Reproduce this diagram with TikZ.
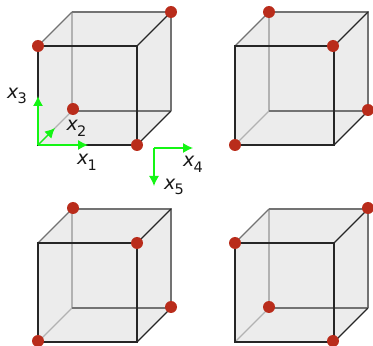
\documentclass[tikz,border=0pt]{standalone}
\usepackage{fontspec}
\setmainfont{DejaVu Sans}
\usepackage{tikz}
\usetikzlibrary{arrows.meta}
\definecolor{cubefill}{HTML}{ECECEC}
\definecolor{dotred}{HTML}{B92C1B}
\definecolor{axisgreen}{HTML}{14F514}
\tikzset{
    edgefront/.style={line width=1.1pt,draw=black!85},
    edgeside/.style={line width=1.1pt,draw=black!55},
    edgeback/.style={line width=1.1pt,draw=black!30},
    axis/.style={line width=1.3pt,draw=axisgreen,-{Latex[length=10pt,width=10pt]}},
    corner/.style={circle,fill=dotred,inner sep=0pt,minimum size=12pt},
    axislabel/.style={inner sep=0pt,font=\fontsize{19}{19}\selectfont,text=black!90}
}
\newcommand{\axisname}[1]{\textit{x}\kern-0.05em\raisebox{-0.3em}{\fontsize{14.5}{14.5}\selectfont #1}}

\begin{document}
\begin{tikzpicture}[x=1pt,y=1pt]

\useasboundingbox (0,0) rectangle (373,346);

% Four cubes: front lower left corner, then size 99 and depth 34
\foreach \cx/\cy in {38/201, 235/201, 38/4, 235/4}{
    \fill[cubefill] (\cx,\cy) -- (\cx+99,\cy) -- (\cx+133,\cy+34) -- (\cx+133,\cy+133)
        -- (\cx+34,\cy+133) -- (\cx,\cy+99) -- cycle;
    % Hidden edges
    \draw[edgeback] (\cx+34,\cy+34) -- (\cx+34,\cy+133);
    \draw[edgeback] (\cx+34,\cy+34) -- (\cx,\cy);
    \draw[edgeside] (\cx+34,\cy+34) -- (\cx+133,\cy+34);
    % Outer edges
    \draw[edgeside] (\cx+34,\cy+133) -- (\cx+133,\cy+133) -- (\cx+133,\cy+34);
    \draw[edgeside] (\cx,\cy+99) -- (\cx+34,\cy+133);
    \draw[edgefront] (\cx+99,\cy+99) -- (\cx+133,\cy+133);
    \draw[edgefront] (\cx+99,\cy) -- (\cx+133,\cy+34);
    % Front face
    \draw[edgefront] (\cx,\cy) rectangle (\cx+99,\cy+99);
}

% Axes of the first cube
\coordinate (origin) at (38,201);
\coordinate (xone) at (88,201);
\coordinate (xtwo) at (55,218);
\coordinate (xthree) at (38,250);
\draw[axis] (origin) -- (xone);
\draw[axis] (origin) -- (xtwo);
\draw[axis] (origin) -- (xthree);

% Axes between the cubes
\coordinate (originb) at (154,198);
\coordinate (xfour) at (193,198);
\coordinate (xfive) at (154,160);
\draw[axis] (originb) -- (xfour);
\draw[axis] (originb) -- (xfive);

% Axis names
\node[axislabel] (labone) at (87,184) {\axisname{1}};
\node[axislabel] (labtwo) at (76.5,218) {\axisname{2}};
\node[axislabel] (labthree) at (17,250) {\axisname{3}};
\node[axislabel] (labfour) at (193,182) {\axisname{4}};
\node[axislabel] (labfive) at (174,159) {\axisname{5}};

% Red corners, upper left cube
\node[corner] (a1) at (38,300) {};
\node[corner] (a2) at (171,334) {};
\node[corner] (a3) at (73,237) {};
\node[corner] (a4) at (137,201) {};

% Red corners, upper right cube
\node[corner] (b1) at (269,334) {};
\node[corner] (b2) at (333,300) {};
\node[corner] (b3) at (368,236) {};
\node[corner] (b4) at (235,201) {};

% Red corners, lower left cube
\node[corner] (c1) at (73,138) {};
\node[corner] (c2) at (137,103) {};
\node[corner] (c3) at (171,39) {};
\node[corner] (c4) at (38,5) {};

% Red corners, lower right cube
\node[corner] (d1) at (368,138) {};
\node[corner] (d2) at (235,103) {};
\node[corner] (d3) at (269,39) {};
\node[corner] (d4) at (333,5) {};

\end{tikzpicture}
\end{document}
